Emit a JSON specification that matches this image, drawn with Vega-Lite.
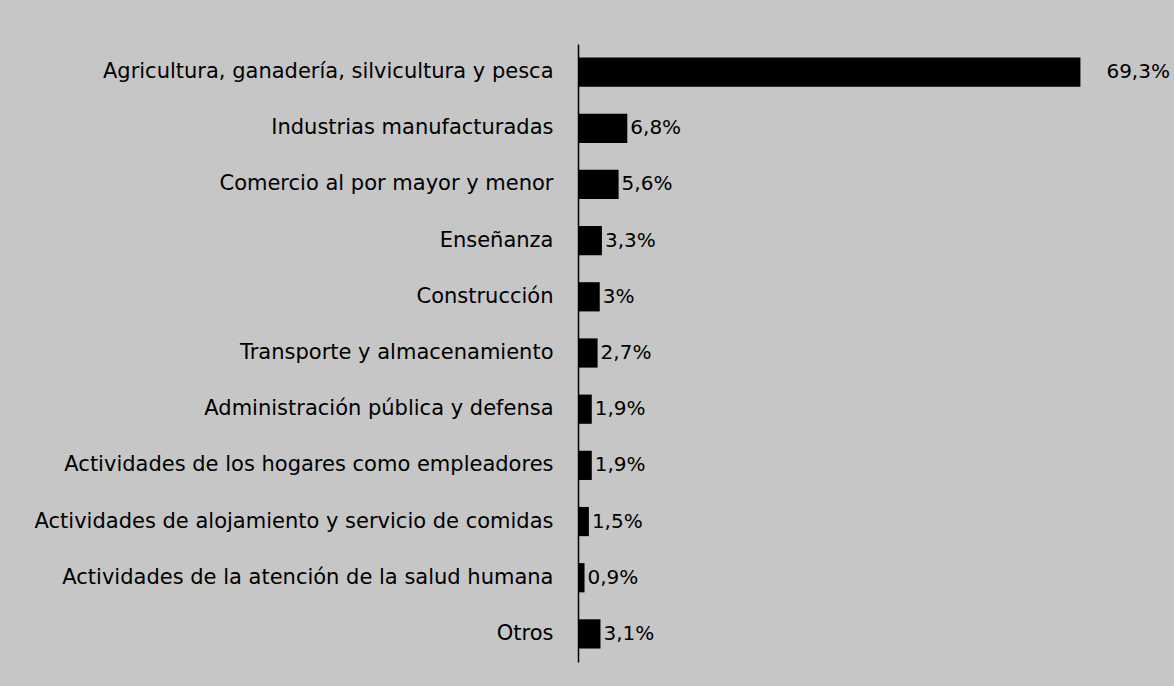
{
  "$schema": "https://vega.github.io/schema/vega-lite/v6.json",
  "width": 580,
  "height": 618,
  "autosize": "none",
  "padding": {"left": 578, "top": 44, "right": 16, "bottom": 24},
  "background": "#c6c6c6",
  "config": {"view": {"stroke": null}, "font": "DejaVu Sans"},
  "data": {
    "values": [
      {"sector": "Agricultura, ganadería, silvicultura y pesca", "value": 69.3, "label": "69,3%"},
      {"sector": "Industrias manufacturadas", "value": 6.8, "label": "6,8%"},
      {"sector": "Comercio al por mayor y menor", "value": 5.6, "label": "5,6%"},
      {"sector": "Enseñanza", "value": 3.3, "label": "3,3%"},
      {"sector": "Construcción", "value": 3.0, "label": "3%"},
      {"sector": "Transporte y almacenamiento", "value": 2.7, "label": "2,7%"},
      {"sector": "Administración pública y defensa", "value": 1.9, "label": "1,9%"},
      {"sector": "Actividades de los hogares como empleadores", "value": 1.9, "label": "1,9%"},
      {"sector": "Actividades de alojamiento y servicio de comidas", "value": 1.5, "label": "1,5%"},
      {"sector": "Actividades de la atención de la salud humana", "value": 0.9, "label": "0,9%"},
      {"sector": "Otros", "value": 3.1, "label": "3,1%"}
    ]
  },
  "encoding": {
    "y": {
      "field": "sector", "type": "nominal", "sort": null,
      "scale": {"paddingInner": 0.48, "paddingOuter": 0.24},
      "axis": {"title": null, "ticks": false, "labelPadding": 25, "labelFontSize": 21, "labelColor": "#000", "labelFont": "DejaVu Sans", "domainColor": "#000", "domainWidth": 1.5, "labelLimit": 0}
    },
    "x": {"field": "value", "type": "quantitative", "scale": {"domain": [0, 80]}, "axis": null}
  },
  "layer": [
    {"mark": {"type": "bar", "color": "#000"}},
    {
      "transform": [{"filter": "datum.value < 50"}],
      "mark": {"type": "text", "align": "left", "baseline": "middle", "dx": 3, "fontSize": 20, "color": "#000", "font": "DejaVu Sans"},
      "encoding": {"text": {"field": "label"}}
    },
    {
      "transform": [{"filter": "datum.value >= 50"}],
      "mark": {"type": "text", "align": "left", "baseline": "middle", "dx": 26, "fontSize": 20, "color": "#000", "font": "DejaVu Sans"},
      "encoding": {"text": {"field": "label"}}
    }
  ]
}
